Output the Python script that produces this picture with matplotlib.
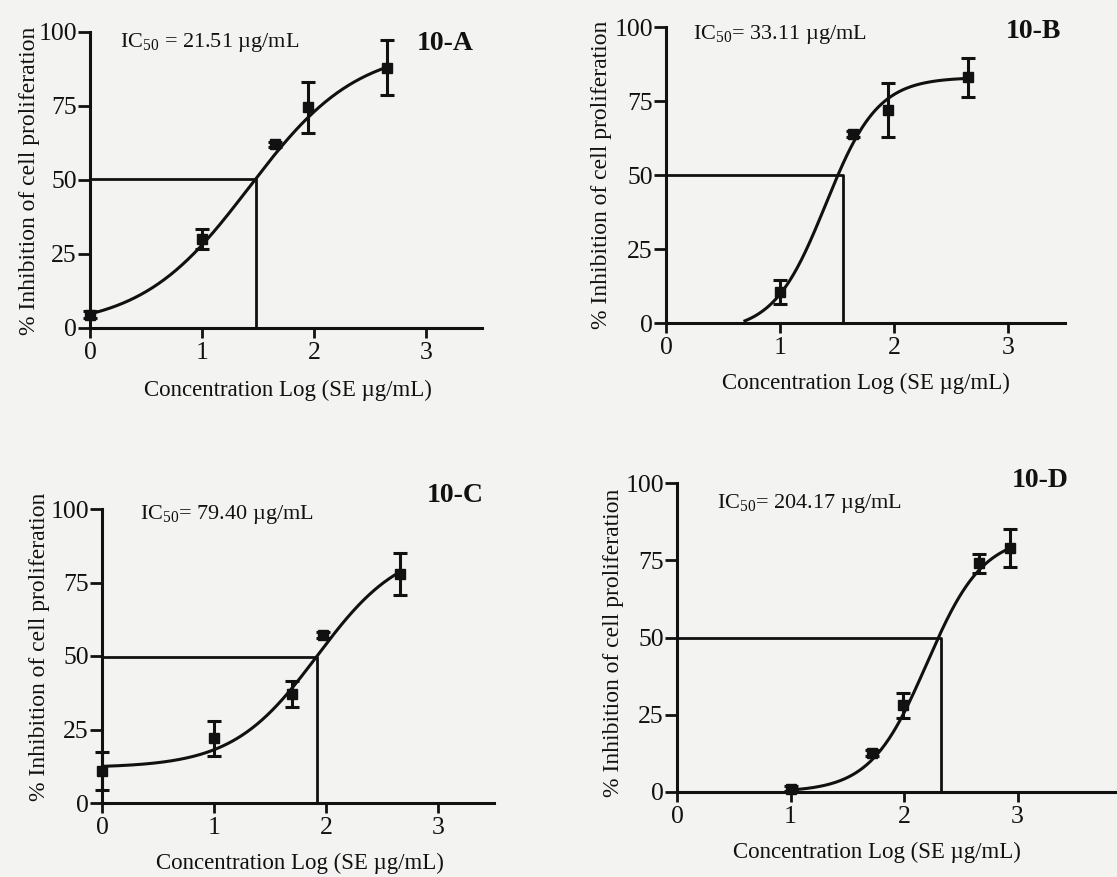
import numpy as np
import matplotlib
matplotlib.use('Agg')
import matplotlib.pyplot as plt

plt.rcParams['font.family'] = ['Liberation Serif', 'DejaVu Serif']
plt.rcParams['mathtext.fontset'] = 'custom'
plt.rcParams['mathtext.rm'] = 'Liberation Serif'

W, H = 1117, 877
BG = '#f3f3f1'
INK = '#111111'

# ---------------- data ----------------
panel_names = ['10-A', '10-B', '10-C', '10-D']
ic50_labels = [r'IC$\mathregular{_{50}}$ = 21.51 µg/mL',
               r'IC$\mathregular{_{50}}$= 33.11 µg/mL',
               r'IC$\mathregular{_{50}}$= 79.40 µg/mL',
               r'IC$\mathregular{_{50}}$= 204.17 µg/mL']
x_ticks = [0, 1, 2, 3]
y_ticks = [0, 25, 50, 75, 100]
x_label = 'Concentration Log (SE µg/mL)'
y_label = '% Inhibition of cell proliferation'

a_x = [0, 1, 1.65, 1.95, 2.65]
a_y = [4.5, 30, 62, 74.5, 88]
a_err = [1.2, 3.3, 1.0, 8.7, 9.3]
a_fit = [0, 95, 1.42, 0.9]          # bottom, top, logIC50, hill
a_fit_range = [0, 2.65]
a_guide = [1.48, 50.3]

b_x = [1, 1.64, 1.95, 2.65]
b_y = [10.5, 64, 72, 83]
b_err = [4.0, 1.0, 9.0, 6.5]
b_fit = [-3, 83, 1.40, 1.9]
b_fit_range = [0.68, 2.65]
b_guide = [1.55, 50]

c_x = [0, 1, 1.70, 1.97, 2.66]
c_y = [11, 22, 37, 57, 78]
c_err = [6.5, 6.0, 4.4, 1.0, 7.2]
c_fit = [12, 88, 1.92, 1.15]
c_fit_range = [0, 2.65]
c_guide = [1.92, 49.5]

d_x = [1, 1.72, 1.99, 2.66, 2.93]
d_y = [1, 12.5, 28, 74, 79]
d_err = [0.8, 1.0, 3.9, 3.1, 6.2]
d_fit = [0, 83, 2.2, 1.75]
d_fit_range = [1.0, 2.95]
d_guide = [2.33, 50]

panels = [
    (a_x, a_y, a_err, a_fit, a_fit_range, a_guide),
    (b_x, b_y, b_err, b_fit, b_fit_range, b_guide),
    (c_x, c_y, c_err, c_fit, c_fit_range, c_guide),
    (d_x, d_y, d_err, d_fit, d_fit_range, d_guide),
]

# ---------------- layout (pixels) ----------------
# origin x px, origin y px, px per x unit, px for 100 y units, xmax
layout = [
    (90, 328, 112.0, 296, 3.5),
    (666, 323, 114.0, 296, 3.5),
    (102, 803, 112.0, 294, 3.5),
    (677, 792, 113.5, 309, 3.87),
]
ic50_pos = [(0.27, 96.5), (0.24, 97.5), (0.34, 98.0), (0.35, 93.5)]
name_pos = [(2.92, 96.0), (2.98, 98.5), (2.90, 104.5), (2.95, 100.8)]
xlabel_px = [(288, 390), (866, 383), (300, 863), (877, 852)]
ylabel_px = [(30, 181), (602, 175), (40, 647), (613, 643)]


def four_pl(x, p):
    bottom, top, logc, hill = p
    return bottom + (top - bottom) / (1 + 10 ** ((logc - x) * hill))


fig = plt.figure(figsize=(W / 100, H / 100), dpi=100, facecolor=BG)

for i, (px, dat) in enumerate(zip(layout, panels)):
    x0, y0, sx, sy, xmax = px
    xs, ys, es, fit, frange, guide = dat
    rect = [x0 / W, (H - y0) / H, xmax * sx / W, sy / H]
    ax = fig.add_axes(rect)
    ax.set_facecolor('none')
    ax.set_xlim(0, xmax)
    ax.set_ylim(0, 100)
    for s in ['top', 'right']:
        ax.spines[s].set_visible(False)
    for s in ['left', 'bottom']:
        ax.spines[s].set_linewidth(2.2)
        ax.spines[s].set_color(INK)
    ax.set_xticks(x_ticks)
    ax.set_yticks(y_ticks)
    ax.tick_params(axis='both', direction='out', width=2.0, colors=INK,
                   labelsize=18.5)
    ax.tick_params(axis='y', length=9, pad=0.5)
    ax.tick_params(axis='x', length=7, pad=3)

    # fitted curve
    cx = np.linspace(frange[0], frange[1], 300)
    ax.plot(cx, four_pl(cx, fit), color=INK, lw=2.2, clip_on=False, zorder=3,
            solid_capstyle='butt')
    # IC50 guides
    gx, gy = guide
    ax.plot([0, gx, gx], [gy, gy, 0], color=INK, lw=2.0, clip_on=False, zorder=2)
    # points with error bars
    ax.errorbar(xs, ys, yerr=es, fmt='s', color=INK, ms=7, capsize=5,
                elinewidth=2.2, capthick=2.2, clip_on=False, zorder=4)

    tx, ty = ic50_pos[i]
    ax.text(tx, ty, ic50_labels[i], fontsize=16, color=INK,
            ha='left', va='center')
    nx, ny = name_pos[i]
    ax.text(nx, ny, panel_names[i], fontsize=20, fontweight='bold', color=INK,
            ha='left', va='center')

    ax.set_xlabel(x_label, fontsize=16.5, color=INK)
    lx, ly = xlabel_px[i]
    ax.xaxis.set_label_coords(lx / W, 1 - ly / H, transform=fig.transFigure)
    ax.xaxis.label.set_va('center')
    ax.set_ylabel(y_label, fontsize=17, color=INK)
    lx, ly = ylabel_px[i]
    ax.yaxis.set_label_coords(lx / W, 1 - ly / H, transform=fig.transFigure)
    ax.yaxis.label.set_va('center')
    ax.yaxis.label.set_ha('center')

fig.savefig('out.png', dpi=100, facecolor=BG)
